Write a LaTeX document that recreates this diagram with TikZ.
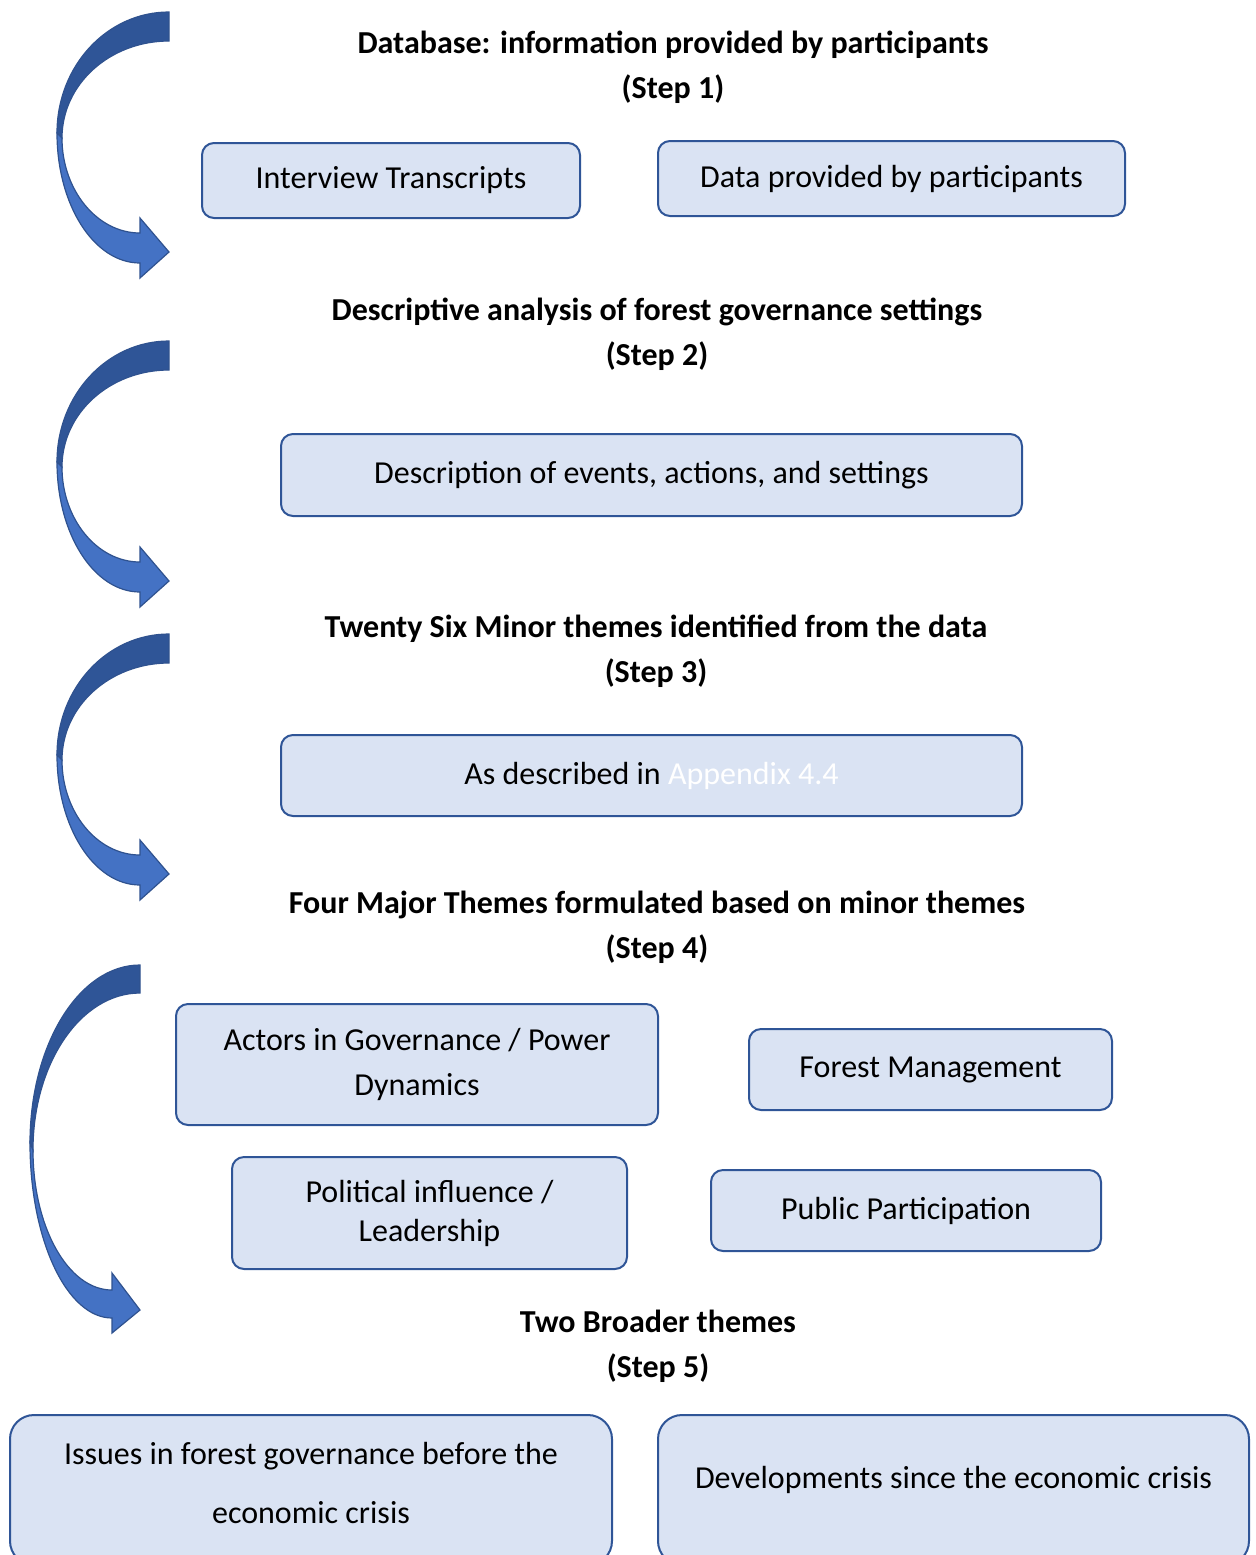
\documentclass[tikz,border=0pt]{standalone}
\usepackage{fontspec}
\setmainfont{Carlito}
\definecolor{boxfill}{HTML}{DAE3F3}
\definecolor{boxline}{HTML}{2F5597}
\definecolor{arrdark}{HTML}{2F5597}
\definecolor{arrlight}{HTML}{4472C4}
\definecolor{arrline}{HTML}{2F528F}
\newcommand{\txtsize}{\fontsize{16}{22.5}\selectfont}
\newcommand{\curvarrow}[2]{%
\begin{scope}[shift={(#1,#2)}]
\fill[arrdark,draw=arrline,line width=0.6pt] (169,12) .. controls (107,12) and (57,66) .. (57,133)
  -- (62,138) .. controls (62,84) and (110,41) .. (169,41) -- cycle;
\fill[arrlight,draw=arrline,line width=0.6pt] (57,133) .. controls (57,205) and (94,263) .. (140,263)
  -- (140,278) -- (169,252) -- (140,218) -- (140,233)
  .. controls (97,233) and (62,190) .. (62,138) -- cycle;
\end{scope}}
\begin{document}
\begin{tikzpicture}[x=0.5pt,y=-0.5pt,
  box/.style={draw=boxline,fill=boxfill,line width=1pt,rounded corners=6pt,
    align=center,font=\txtsize,inner sep=0pt},
  txt/.style={align=center,font=\txtsize,inner sep=0pt},
  head/.style={align=center,font=\txtsize\bfseries,inner sep=0pt}]
\useasboundingbox (0,0) rectangle (1256,1555);
% curved arrows
\curvarrow{0}{0}
\curvarrow{0}{329}
\curvarrow{0}{622}
\fill[arrdark,draw=arrline,line width=0.6pt] (140,965) .. controls (79,965) and (30,1045) .. (30,1143)
  -- (33,1150) .. controls (33,1063) and (81,993) .. (140,993) -- cycle;
\fill[arrlight,draw=arrline,line width=0.6pt] (30,1143) .. controls (30,1240) and (67,1318) .. (112,1318)
  -- (112,1333) -- (140,1310) -- (112,1273) -- (112,1290)
  .. controls (68,1290) and (33,1227) .. (33,1150) -- cycle;
% headings
\node[head] (h1) at (673,67) {Database: information provided by participants\\(Step 1)};
\node[head] (h2) at (657,334) {Descriptive analysis of forest governance settings\\(Step 2)};
\node[head] (h3) at (656,651) {Twenty Six Minor themes identified from the data\\(Step 3)};
\node[head] (h4) at (657,927) {Four Major Themes formulated based on minor themes\\(Step 4)};
\node[head] (h5) at (658,1346.5) {Two Broader themes\\(Step 5)};
% boxes
\node[box,minimum width=189pt,minimum height=37.5pt] (b1) at (391,180.5) {Interview Transcripts};
\node[box,minimum width=233.5pt,minimum height=37.5pt] (b2) at (891.5,178.5) {Data provided by participants};
\node[box,minimum width=370.5pt,minimum height=41pt] (b3) at (651.5,475) {Description of events, actions, and settings};
\node[box,minimum width=370.5pt,minimum height=40.5pt] (b4) at (651.5,775.5) {As described in \textcolor{white}{Appendix 4.4}};
\node[box,minimum width=241pt,minimum height=60.5pt] (b5) at (417,1064.5) {Actors in Governance / Power\\Dynamics};
\node[box,minimum width=181.5pt,minimum height=40.5pt] (b6) at (930.5,1069.5) {Forest Management};
\node[box,minimum width=197.5pt,minimum height=56pt,font=\fontsize{16}{19.5}\selectfont] (b7) at (429.5,1213) {Political influence /\\Leadership};
\node[box,minimum width=195pt,minimum height=40.5pt] (b8) at (906,1210.5) {Public Participation};
\node[box,rounded corners=12pt,minimum width=301pt,minimum height=75pt] (b9) at (311,1490) {};
\node[txt,font=\fontsize{16}{29.5}\selectfont] (t9) at (311,1483) {Issues in forest governance before the\\economic crisis};
\node[box,rounded corners=12pt,minimum width=295.5pt,minimum height=75pt] (b10) at (953.5,1490) {};
\node[txt] (t10) at (953.5,1480) {Developments since the economic crisis};
\end{tikzpicture}
\end{document}
